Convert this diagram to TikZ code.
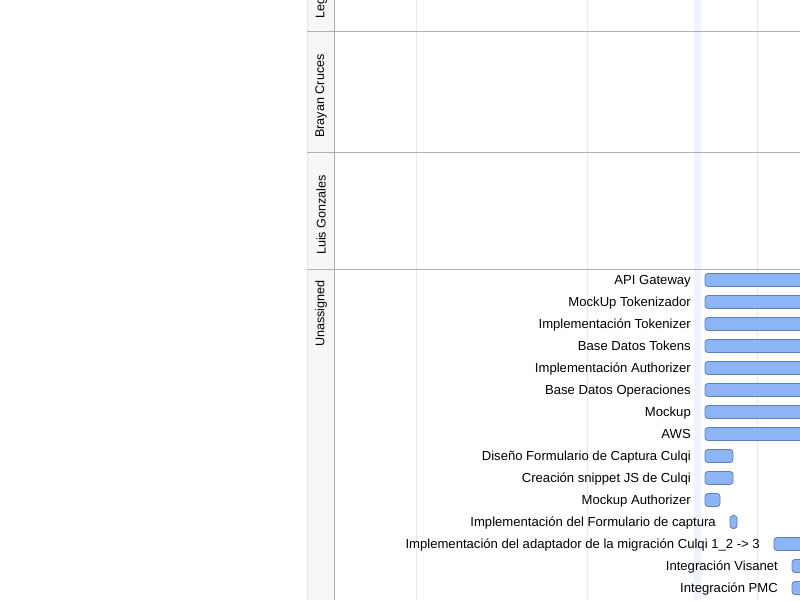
\documentclass[tikz,border=0pt]{standalone}
\usepackage{fontspec}
\setmainfont{Liberation Sans}
\definecolor{barfill}{HTML}{8DB5F6}
\definecolor{barline}{HTML}{5B7FB6}
\definecolor{gridc}{HTML}{E8E8E8}
\definecolor{sepc}{HTML}{B0B0B0}
\definecolor{hdrfill}{HTML}{F7F7F7}
\definecolor{todayc}{HTML}{EEF5FF}
\tikzset{
  bar/.style={draw=barline, fill=barfill, line width=0.8pt, rounded corners=3pt, minimum height=13pt, inner sep=0pt},
  tasklbl/.style={anchor=base east, font=\fontsize{13.1}{15}\selectfont, inner sep=0pt},
  lanelbl/.style={rotate=90, font=\fontsize{12.6}{14}\selectfont, inner sep=0pt},
  gridline/.style={draw=gridc, line width=0.8pt},
  sepline/.style={draw=sepc, line width=1pt}
}
\begin{document}
\begin{tikzpicture}[x=1pt, y=-1pt]
\useasboundingbox (0,0) rectangle (800,600);
\clip (0,0) rectangle (800,600);
% header column
\fill[hdrfill] (307,0) rectangle (334,600);
\draw[draw=gridc, line width=0.8pt] (307,0) -- (307,600);
% today band
\fill[todayc] (694,0) rectangle (701,600);
% grid
\foreach \gx in {416,587,757} \draw[gridline] (\gx,0) -- (\gx,600);
\draw[draw=sepc, line width=1pt] (334,0) -- (334,600);
% lane separators
\foreach \gy in {31,152,269} \draw[sepline] (307,\gy) -- (800,\gy);
% lane labels
\node[lanelbl, anchor=west] (legend) at (321,19) {Legend};
\node[lanelbl] (brayan) at (321,96) {Brayan Cruces};
\node[lanelbl] (luis) at (321,215) {Luis Gonzales};
\node[lanelbl, anchor=east] (unassigned) at (321,280) {Unassigned};
% tasks
\newcommand{\taskrow}[5]{%
  \node[tasklbl] (l#1) at (#3-14,#2+4.5) {#5};
  \path[bar] (#3,#2-6.5) rectangle (#4,#2+6.5) coordinate (b#1);
}
\taskrow{1}{280}{705}{820}{API Gateway\hspace{4pt}}
\taskrow{2}{302}{705}{820}{MockUp Tokenizador}
\taskrow{3}{324}{705}{820}{Implementación Tokenizer}
\taskrow{4}{346}{705}{820}{Base Datos Tokens}
\taskrow{5}{368}{705}{820}{Implementación Authorizer}
\taskrow{6}{390}{705}{820}{Base Datos Operaciones}
\taskrow{7}{412}{705}{820}{Mockup}
\taskrow{8}{434}{705}{820}{AWS}
\taskrow{9}{456}{705}{733}{Diseño Formulario de Captura Culqi}
\taskrow{10}{478}{705}{733}{Creación snippet JS de Culqi}
\taskrow{11}{500}{705}{720}{Mockup Authorizer}
\taskrow{12}{522}{730}{737}{Implementación del Formulario de captura}
\taskrow{13}{544}{774}{820}{Implementación del adaptador de la migración Culqi 1\_2 -> 3}
\taskrow{14}{566}{792}{820}{Integración Visanet}
\taskrow{15}{588}{792}{820}{Integración PMC}
\end{tikzpicture}
\end{document}
